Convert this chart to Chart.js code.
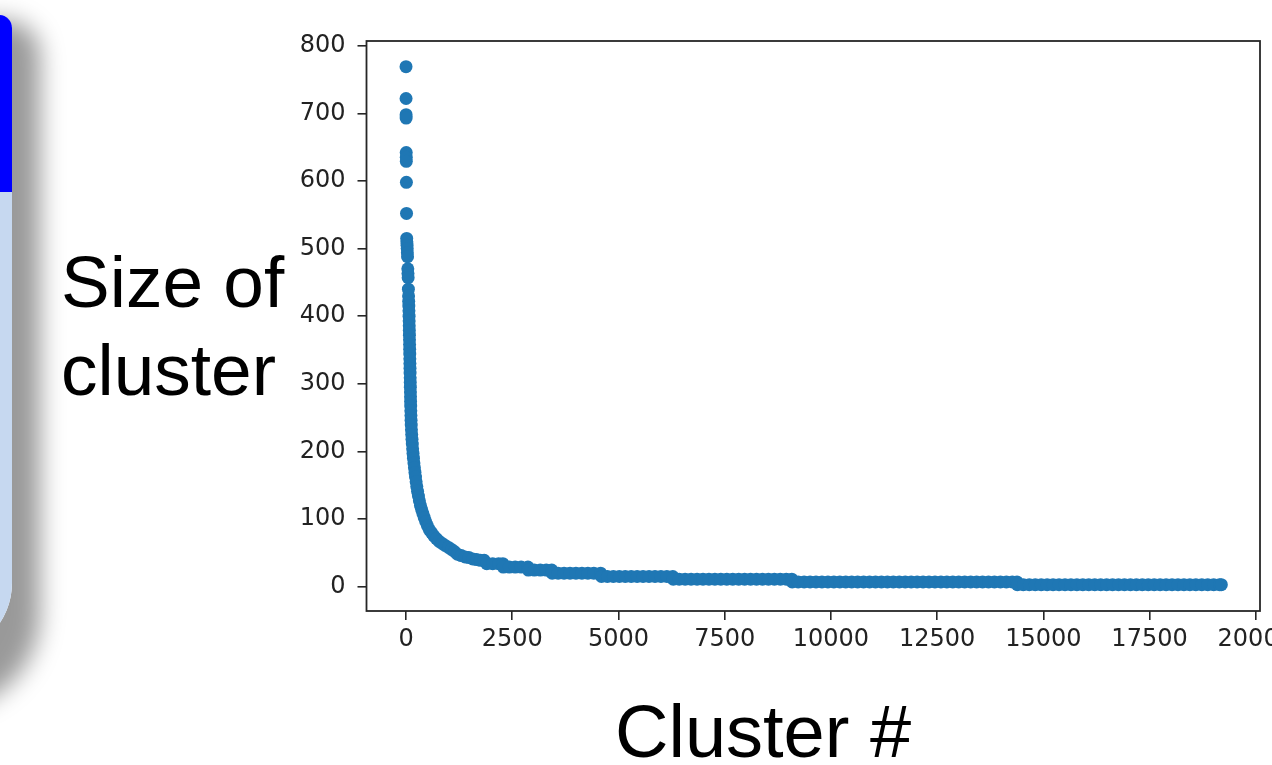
<!DOCTYPE html>
<html>
<head>
<meta charset="utf-8">
<script src="https://cdn.jsdelivr.net/npm/chart.js@4"></script>
<style>
html,body{margin:0;padding:0;background:#fff;width:1272px;height:765px;overflow:hidden;position:relative;}
#panel{position:absolute;left:-300px;top:15px;width:312px;height:640px;border-radius:0 13px 72px 0;
  background:linear-gradient(#0000ff 0,#0000ff 177px,#c6d8f0 177px);
  box-shadow:3px 30px 24px 25px rgba(0,0,0,0.4);}
.big{position:absolute;font-family:"Liberation Sans",Arial,sans-serif;font-size:73px;line-height:88px;color:#000;white-space:nowrap;}
#ylab{left:61px;top:238px;}
#xlab{left:615px;top:688px;font-size:74px;}
#c{position:absolute;left:0;top:0;}
</style>
</head>
<body>
<div id="panel"></div>
<canvas id="c" width="1272" height="765"></canvas>
<div class="big" id="ylab">Size of<br>cluster</div>
<div class="big" id="xlab">Cluster #</div>
<script>
// Largest clusters (steep head of the curve): cluster # and size
const headIndex = [0,1,2,3,5,6,7,9,12,16,
  20,24,28,32,36,42,46,50,56,60,
  63,66,69,72,74,76,78,80,82,84,
  86,88,90,92,94,96,98,100,102,104,
  106,108,110,113,116,119,123,128,134,141,
  148,156,165,175,186,198,211,224,238,254,
  272,292,315,340,368,398,430,465,505,550,
  600,655,715,780,850,920,1000,1070,1140,1210,
  1300,1390,1480,1570,1660,1750,1840];
const headSize = [769,722,698,693,642,635,629,598,552,515,
  510,505,500,494,488,470,463,457,440,430,
  422,415,408,400,393,386,379,372,365,358,
  351,344,337,330,323,316,309,302,295,288,
  281,274,267,260,253,246,239,232,225,218,
  211,204,197,190,183,176,169,162,155,148,
  141,134,127,120,114,108,102,96,90,84,
  80,75,71,67,64,61,58,55,52,48,
  46,44,43,41,40,39,39];

// Long flat tail: size level of each plateau and the cluster # read along it
const tailLevels = [34, 29, 24.5, 20, 15, 11, 7, 3];
const tailIndex = [
  [1900,2040,2180,2280],
  [2290,2430,2570,2710,2870],
  [2880,3020,3160,3300,3430],
  [3440,3580,3720,3860,4000,4140,4280,4420,4580],
  [4600,4740,4880,5020,5160,5300,5440,5580,5720,5860,6000,6140,6280],
  [6290,6430,6570,6710,6850,6990,7130,7270,7410,7550,7690,7830,7970,8110,8250,8390,8530,8670,8810,8950,9080],
  [9090,9230,9370,9510,9650,9790,9930,10070,10210,10350,10490,10630,10770,10910,11050,11190,11330,11470,11610,11750,
   11890,12030,12170,12310,12450,12590,12730,12870,13010,13150,13290,13430,13570,13710,13850,13990,14130,14270,14380],
  [14390,14530,14670,14810,14950,15090,15230,15370,15510,15650,15790,15930,16070,16210,16350,16490,16630,16770,16910,17050,
   17190,17330,17470,17610,17750,17890,18030,18170,18310,18450,18590,18730,18870,19010,19150,19190]
];

const xTickValues = [0,2500,5000,7500,10000,12500,15000,17500,20000];
const yTickValues = [0,100,200,300,400,500,600,700,800];

const points = headIndex.map((x, i) => ({x: x, y: headSize[i]}));
tailIndex.forEach((grp, g) => grp.forEach(x => points.push({x: x, y: tailLevels[g]})));

const frame = {
  id: 'frame',
  afterDraw(chart) {
    const a = chart.chartArea, ctx = chart.ctx;
    ctx.save();
    ctx.strokeStyle = '#262626';
    ctx.lineWidth = 1.8;
    ctx.strokeRect(a.left, a.top, a.right - a.left, a.bottom - a.top);
    ctx.restore();
  }
};

const tickFont = {family: 'DejaVu Sans', size: 24};
const gridOpts = {display: true, drawOnChartArea: false, drawTicks: true, tickLength: 9, color: '#262626', lineWidth: 1.6};
const plain = v => String(v);

new Chart(document.getElementById('c'), {
  type: 'scatter',
  data: {datasets: [{
    data: points,
    backgroundColor: '#1f77b4',
    borderWidth: 0,
    pointRadius: 6.5,
    pointHoverRadius: 6.5
  }]},
  options: {
    responsive: false,
    devicePixelRatio: 1,
    animation: false,
    events: [],
    layout: {autoPadding: false, padding: {left: 266.5, top: 41, right: 12, bottom: 94}},
    plugins: {legend: {display: false}, tooltip: {enabled: false}},
    scales: {
      x: {
        type: 'linear', min: -930, max: 20100,
        afterBuildTicks: s => { s.ticks = xTickValues.map(v => ({value: v})); },
        afterFit: s => { s.height = 60; s.paddingLeft = 0; s.paddingRight = 0; },
        ticks: {font: tickFont, color: '#222', padding: 5, maxRotation: 0, autoSkip: false, callback: plain},
        grid: gridOpts,
        border: {display: false}
      },
      y: {
        type: 'linear', min: -36, max: 807,
        afterBuildTicks: s => { s.ticks = yTickValues.map(v => ({value: v})); },
        afterFit: s => { s.width = 100; s.paddingTop = 0; s.paddingBottom = 0; },
        ticks: {font: tickFont, color: '#222', padding: 12, autoSkip: false, callback: plain},
        grid: gridOpts,
        border: {display: false}
      }
    }
  },
  plugins: [frame]
});
</script>
</body>
</html>
